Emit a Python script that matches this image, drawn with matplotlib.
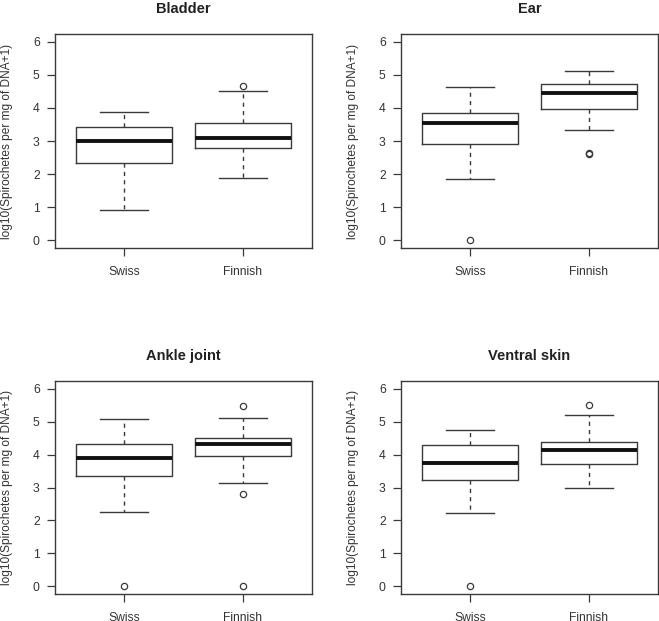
import matplotlib
matplotlib.use("Agg")
import matplotlib.pyplot as plt

plt.rcParams['font.family'] = ['Liberation Sans', 'DejaVu Sans']

# Tissues and groups
tissues = ["Bladder", "Ear", "Ankle joint", "Ventral skin"]
groups = ["Swiss", "Finnish"]

# Box statistics: [Swiss, Finnish]
whislo = [[0.92, 1.87], [1.85, 3.34], [2.26, 3.13], [2.21, 2.99]]
q1 = [[2.33, 2.80], [2.92, 3.97], [3.36, 3.95], [3.24, 3.71]]
med = [[3.01, 3.09], [3.55, 4.44], [3.90, 4.31], [3.74, 4.15]]
q3 = [[3.41, 3.53], [3.84, 4.72], [4.31, 4.51], [4.28, 4.37]]
whishi = [[3.88, 4.51], [4.64, 5.12], [5.09, 5.12], [4.75, 5.20]]
fliers = [[[], [4.68]],
          [[0.0], [2.62, 2.63]],
          [[0.0], [5.47, 2.80, 0.0]],
          [[0.0], [5.52]]]

ylabel = "log10(Spirochetes per mg of DNA+1)"

W, H = 659, 621
fig = plt.figure(figsize=(W / 100, H / 100), dpi=100)

# axes boxes in pixels: left, top, right, bottom
boxes = [(55, 34, 312, 248), (401, 34, 658, 248),
         (55, 381, 312, 594), (401, 381, 658, 594)]

line_col = "#3a3a3a"

for i, name in enumerate(tissues):
    l, t, r, b = boxes[i]
    ax = fig.add_axes([l / W, 1 - b / H, (r - l) / W, (b - t) / H])
    stats = []
    for j, g in enumerate(groups):
        stats.append(dict(label=g, whislo=whislo[i][j], q1=q1[i][j], med=med[i][j],
                          q3=q3[i][j], whishi=whishi[i][j], fliers=fliers[i][j]))
    ax.bxp(stats, positions=[1, 2], widths=0.8,
           boxprops=dict(color=line_col, linewidth=1.0),
           medianprops=dict(color="#111111", linewidth=2.8, solid_capstyle="butt"),
           whiskerprops=dict(color=line_col, linewidth=1.0, linestyle=(0, (3, 3))),
           capprops=dict(color=line_col, linewidth=1.0),
           capwidths=0.4,
           flierprops=dict(marker="o", markersize=4.5, markerfacecolor="none",
                           markeredgecolor=line_col, markeredgewidth=0.9))
    ax.set_xlim(0.42, 2.58)
    ax.set_ylim(-0.24, 6.24)
    ax.set_yticks(range(0, 7))
    ax.set_xticks([1, 2])
    ax.set_xticklabels(groups)
    ax.tick_params(axis="both", direction="out", length=6, width=0.9,
                   color=line_col, labelcolor="#333333", labelsize=8.7)
    ax.tick_params(axis="x", pad=7)
    ax.tick_params(axis="y", pad=5)
    for sp in ax.spines.values():
        sp.set_color(line_col)
        sp.set_linewidth(1.0)
    ax.set_title(name, fontsize=10.5, fontweight="bold", pad=15, color="#222222")
    ax.set_ylabel(ylabel, fontsize=8.6, color="#333333")
    ax.yaxis.set_label_coords(-0.163, 0.5)

fig.savefig("out.png", dpi=100)
